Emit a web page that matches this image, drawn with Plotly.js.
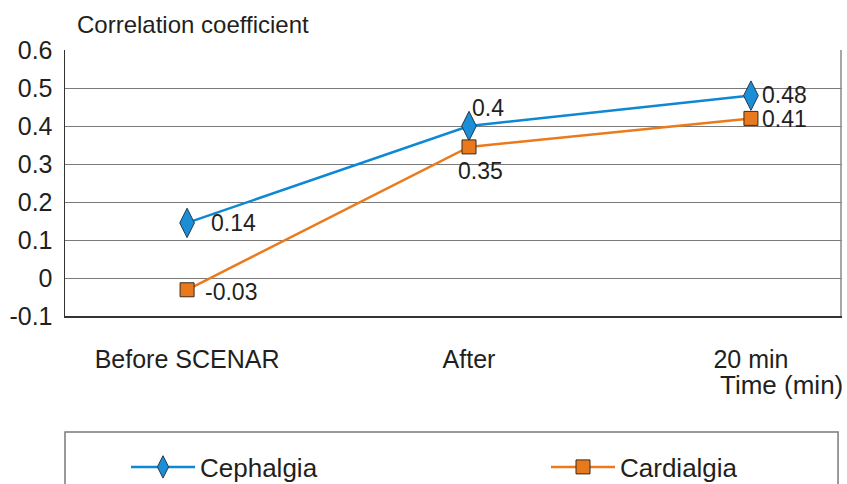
<!DOCTYPE html>
<html>
<head>
<meta charset="utf-8">
<script src="https://cdn.plot.ly/plotly-3.0.1.min.js"></script>
<style>html,body{margin:0;padding:0;background:#fff;}#chart{width:847px;height:484px;}</style>
</head>
<body>
<div id="chart"></div>
<script>
const categories = ['Before SCENAR', 'After', '20 min'];
const cephalgia = [0.145, 0.40, 0.48];
const cardialgia = [-0.031, 0.345, 0.42];
const cephalgiaLabels = ['0.14', '0.4', '0.48'];
const cardialgiaLabels = ['-0.03', '0.35', '0.41'];
const yTicks = [-0.1, 0, 0.1, 0.2, 0.3, 0.4, 0.5, 0.6];
const yTickText = ['-0.1', '0', '0.1', '0.2', '0.3', '0.4', '0.5', '0.6'];

const FONT = 'Liberation Sans, Arial, sans-serif';
const TXT = '#231f20';

// label offsets (px) relative to each marker
const cephLabelShift = [[22, 0], [1, 18], [9, 1]];
const cardLabelShift = [[16, -2], [-13, -24], [9, -1]];

const traces = [
  {
    x: categories, y: cephalgia, name: 'Cephalgia', type: 'scatter', mode: 'lines+markers',
    line: {color: '#0e88d4', width: 2.5},
    marker: {symbol: 'diamond-tall', size: 21, color: '#1a8fd8', line: {color: '#26384a', width: 1}},
    cliponaxis: false, legend: 'legend'
  },
  {
    x: categories, y: cardialgia, name: 'Cardialgia', type: 'scatter', mode: 'lines+markers',
    line: {color: '#ea7a1c', width: 2.5},
    marker: {symbol: 'square', size: 14, color: '#e8791c', line: {color: '#3a2a1a', width: 1}},
    cliponaxis: false, legend: 'legend2'
  }
];

const annotations = [];
categories.forEach((c, i) => {
  annotations.push({x: c, y: cephalgia[i], xref: 'x', yref: 'y', text: cephalgiaLabels[i],
    showarrow: false, xanchor: 'left', yanchor: 'middle',
    xshift: cephLabelShift[i][0], yshift: cephLabelShift[i][1],
    font: {family: FONT, size: 23, color: TXT}});
  annotations.push({x: c, y: cardialgia[i], xref: 'x', yref: 'y', text: cardialgiaLabels[i],
    showarrow: false, xanchor: 'left', yanchor: 'middle',
    xshift: cardLabelShift[i][0], yshift: cardLabelShift[i][1],
    font: {family: FONT, size: 23, color: TXT}});
});
annotations.push(
  {text: 'Correlation coefficient', xref: 'paper', yref: 'paper', x: 0.0129, y: 1,
   xanchor: 'left', yanchor: 'bottom', yshift: 10, showarrow: false,
   font: {family: FONT, size: 24, color: TXT}},
  {text: 'Time (min)', xref: 'paper', yref: 'paper', x: 1.004, y: 0, xanchor: 'right',
   yanchor: 'middle', yshift: -69, showarrow: false,
   font: {family: FONT, size: 26, color: TXT}}
);

const legendBase = {
  orientation: 'h', xref: 'container', yref: 'container', xanchor: 'left',
  y: 1 - 467 / 484, yanchor: 'middle', itemwidth: 64,
  font: {family: FONT, size: 26, color: TXT}, bgcolor: 'rgba(0,0,0,0)', borderwidth: 0
};

const layout = {
  width: 847, height: 484,
  margin: {l: 65, r: 5, t: 50, b: 168},
  paper_bgcolor: '#fff', plot_bgcolor: '#fff',
  font: {family: FONT, size: 25, color: TXT},
  showlegend: true,
  legend: Object.assign({}, legendBase, {x: 126 / 847}),
  legend2: Object.assign({}, legendBase, {x: 546 / 847}),
  xaxis: {
    type: 'category', range: [-0.433, 2.323],
    showgrid: false, zeroline: false, showline: true, linecolor: '#333', linewidth: 1.5,
    ticks: 'outside', ticklen: 20, tickcolor: 'rgba(0,0,0,0)',
    tickfont: {family: FONT, size: 25, color: TXT}, fixedrange: true
  },
  yaxis: {
    range: [-0.1, 0.6], tickvals: yTicks, ticktext: yTickText,
    showgrid: true, gridcolor: '#7a7a7a', gridwidth: 1,
    zeroline: false, showline: true, linecolor: '#333', linewidth: 1.5,
    ticks: 'outside', ticklen: 6, tickcolor: 'rgba(0,0,0,0)',
    tickfont: {family: FONT, size: 25, color: TXT}, fixedrange: true
  },
  shapes: [
    {type: 'line', xref: 'paper', yref: 'paper', x0: 0.9987, x1: 0.9987, y0: 0, y1: 1,
     line: {color: '#8a8a8a', width: 1.5}},
    {type: 'rect', xref: 'paper', yref: 'paper', x0: 0.0, x1: 0.9949,
     y0: (316 - 432) / 266, y1: -0.75,
     line: {color: '#7a7a7a', width: 1.5}}
  ],
  annotations: annotations
};

Plotly.newPlot('chart', traces, layout, {displayModeBar: false, staticPlot: true});
</script>
</body>
</html>
